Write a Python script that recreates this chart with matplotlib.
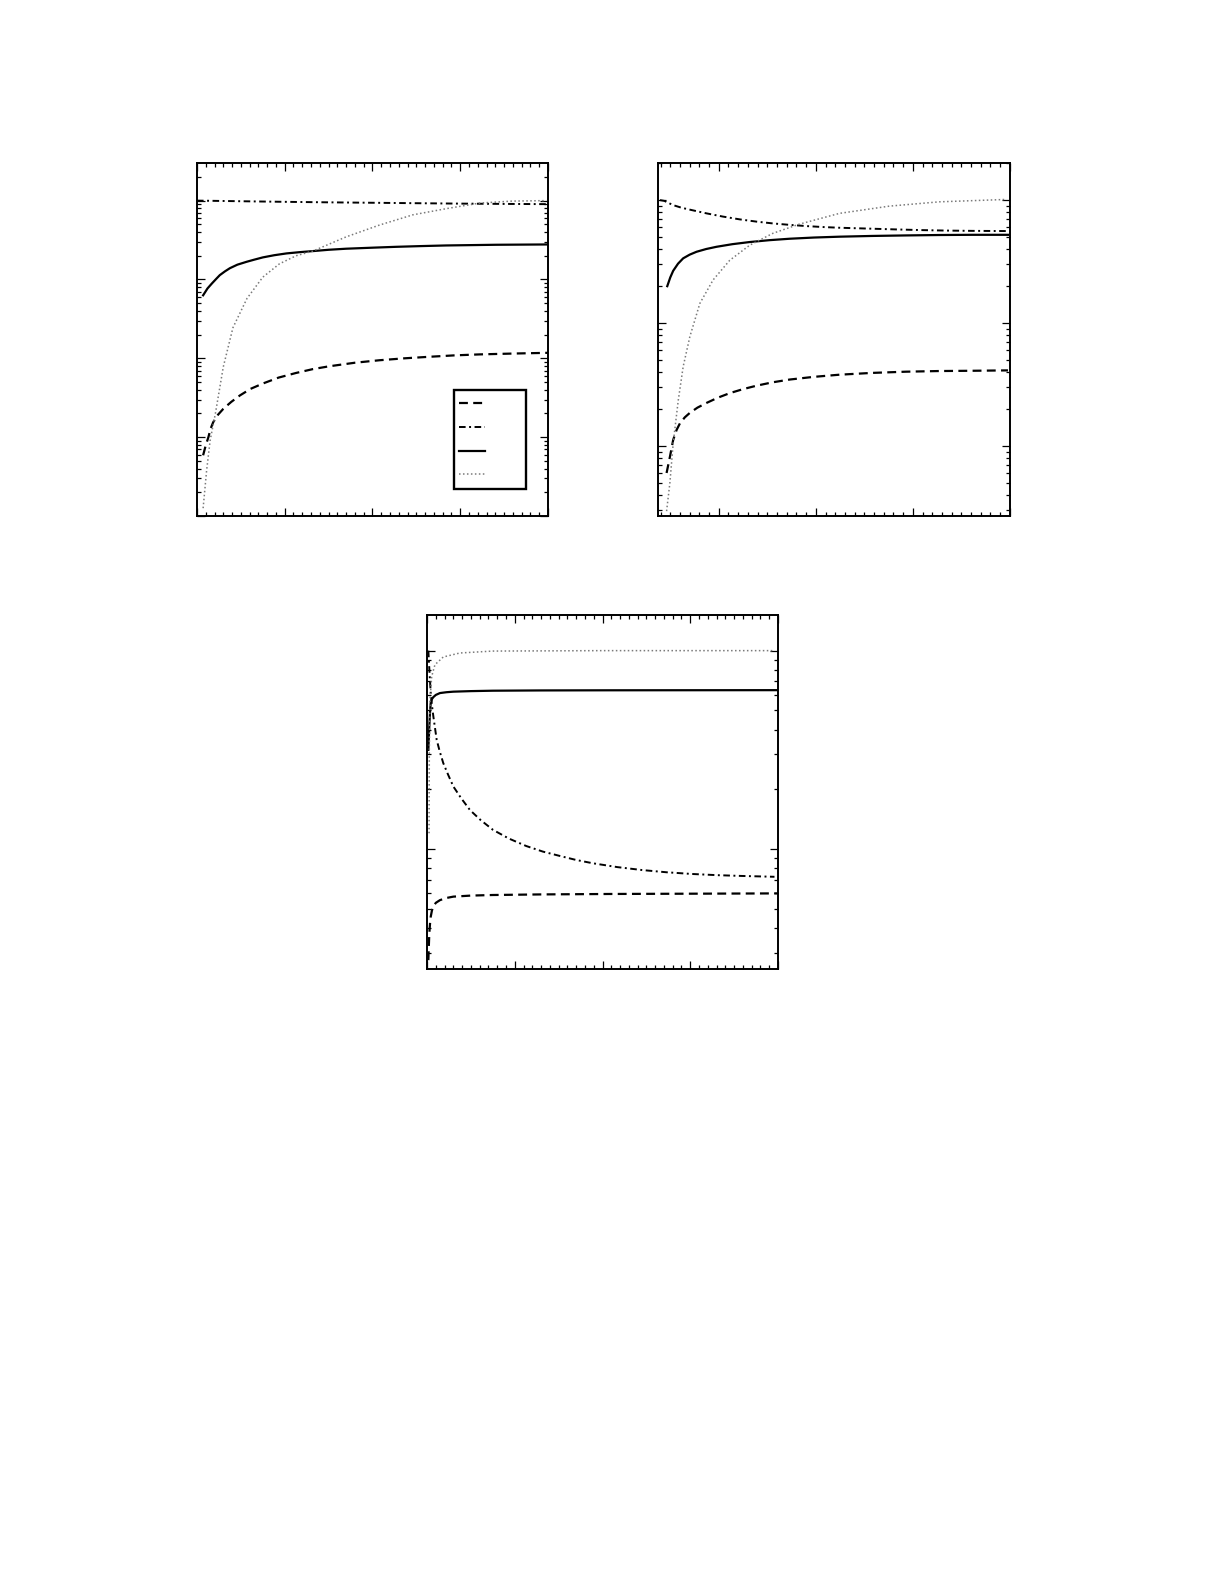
"""
Three log-scale panels of four quantities vs x (no labels in the original figure).
Saves out.png.
"""
import matplotlib
matplotlib.use("Agg")
import matplotlib.pyplot as plt
import numpy as np
from matplotlib.ticker import MultipleLocator, LogLocator, NullFormatter
from matplotlib.patches import Rectangle
from matplotlib.lines import Line2D

# ---- panel 1 data ----
p1_dash_x = [0.07, 0.10, 0.13, 0.155, 0.185, 0.24, 0.30, 0.39, 0.49, 0.61, 0.75, 0.93,
             1.13, 1.32, 1.51, 1.8, 2.08, 2.36, 2.65, 2.93, 3.22, 3.6, 4.0]
p1_dash_y = [5.9e-4, 7.9e-4, 1.0e-3, 1.28e-3, 1.55e-3, 1.93e-3, 2.29e-3, 2.8e-3, 3.39e-3,
             4.1e-3, 4.79e-3, 5.7e-3, 6.53e-3, 7.3e-3, 7.94e-3, 8.8e-3, 9.46e-3, 1.0e-2,
             1.047e-2, 1.09e-2, 1.122e-2, 1.15e-2, 1.175e-2]
p1_dashdot_x = [0.0, 0.5, 1.0, 1.5, 2.0, 2.5, 3.0, 3.5, 4.0]
p1_dashdot_y = [1.0, 0.982, 0.965, 0.951, 0.939, 0.927, 0.916, 0.908, 0.902]
p1_solid_x = [0.07, 0.12, 0.17, 0.22, 0.26, 0.32, 0.375, 0.46, 0.565, 0.65, 0.75, 0.88,
              1.02, 1.17, 1.32, 1.5, 1.70, 2.0, 2.27, 2.55, 2.84, 3.41, 4.0]
p1_solid_y = [0.063, 0.077, 0.089, 0.102, 0.1135, 0.127, 0.139, 0.154, 0.1675, 0.178,
              0.1905, 0.203, 0.214, 0.222, 0.229, 0.238, 0.2455, 0.253, 0.2595, 0.265,
              0.27, 0.2755, 0.278]
p1_dot_x = [0.07, 0.11, 0.15, 0.21, 0.30, 0.41, 0.57, 0.75, 0.94, 1.13, 1.32, 1.70,
            2.08, 2.46, 2.84, 3.22, 3.59, 3.98]
p1_dot_y = [1.26e-4, 3.8e-4, 9.1e-4, 2.0e-3, 7.8e-3, 2.45e-2, 5.75e-2, 0.107, 0.158,
            0.20, 0.229, 0.347, 0.49, 0.66, 0.79, 0.93, 0.986, 1.0]

# ---- panel 2 data ----
p2_dash_x = [0.462, 0.496, 0.53, 0.565, 0.60, 0.65, 0.702, 0.78, 0.874, 0.99, 1.113,
             1.25, 1.387, 1.55, 1.73, 1.98, 2.244, 2.58, 2.929, 3.27, 3.614, 3.98]
p2_dash_y = [6.03e-3, 8.13e-3, 1.12e-2, 1.35e-2, 1.53e-2, 1.71e-2, 1.86e-2, 2.05e-2,
             2.24e-2, 2.47e-2, 2.69e-2, 2.90e-2, 3.09e-2, 3.29e-2, 3.47e-2, 3.65e-2,
             3.80e-2, 3.93e-2, 4.02e-2, 4.07e-2, 4.09e-2, 4.12e-2]
p2_dashdot_x = [0.394, 0.44, 0.48, 0.53, 0.62, 0.72, 0.874, 1.04, 1.216, 1.39, 1.558,
                1.73, 1.90, 2.07, 2.24, 2.586, 2.84, 3.10, 3.35, 3.61, 3.98]
p2_dashdot_y = [1.0, 0.985, 0.95, 0.91, 0.865, 0.83, 0.78, 0.735, 0.697, 0.668, 0.646,
                0.629, 0.615, 0.604, 0.596, 0.585, 0.577, 0.570, 0.565, 0.562, 0.56]
p2_solid_x = [0.469, 0.50, 0.53, 0.58, 0.633, 0.70, 0.771, 0.87, 0.976, 1.14, 1.319,
              1.52, 1.73, 1.98, 2.244, 2.58, 2.929, 3.27, 3.614, 3.98]
p2_solid_y = [0.1995, 0.235, 0.266, 0.304, 0.336, 0.36, 0.38, 0.40, 0.417, 0.438, 0.456,
              0.472, 0.485, 0.496, 0.504, 0.511, 0.516, 0.52, 0.522, 0.522]
p2_dot_x = [0.462, 0.496, 0.53, 0.582, 0.633, 0.702, 0.805, 0.941, 1.113, 1.319, 1.558,
            1.832, 2.244, 2.757, 3.271, 3.957]
p2_dot_y = [2.95e-3, 5.0e-3, 1.05e-2, 2.34e-2, 4.42e-2, 7.76e-2, 0.1445, 0.224, 0.324,
            0.43, 0.537, 0.638, 0.78, 0.893, 0.968, 1.012]

# ---- panel 3 data ----
p3_dash_x = [0.015, 0.02, 0.026, 0.034, 0.042, 0.056, 0.072, 0.1, 0.147, 0.22, 0.30,
             0.5, 0.75, 1.3, 2.07, 3.99]
p3_dash_y = [0.0275, 0.032, 0.0375, 0.042, 0.0455, 0.049, 0.0513, 0.0535, 0.0552,
             0.0566, 0.0575, 0.0582, 0.0586, 0.059, 0.0593, 0.0597]
p3_dashdot_x = [0.015, 0.028, 0.042, 0.056, 0.072, 0.09, 0.11, 0.145, 0.185, 0.24, 0.30,
                0.39, 0.49, 0.61, 0.75, 0.93, 1.13, 1.32, 1.51, 1.7, 1.89, 2.17, 2.45,
                2.73, 3.02, 3.3, 3.59, 3.96]
p3_dashdot_y = [1.0, 0.78, 0.611, 0.53, 0.466, 0.41, 0.355, 0.31, 0.271, 0.237, 0.2065,
                0.18, 0.157, 0.14, 0.125, 0.113, 0.1035, 0.097, 0.0923, 0.088, 0.0847,
                0.081, 0.0783, 0.0763, 0.0748, 0.0738, 0.0731, 0.0724]
p3_solid_x = [0.015, 0.02, 0.026, 0.034, 0.042, 0.056, 0.072, 0.1, 0.147, 0.22, 0.30,
              0.5, 0.75, 1.3, 2.07, 3.99]
p3_solid_y = [0.316, 0.36, 0.415, 0.49, 0.545, 0.57, 0.583, 0.598, 0.611, 0.617, 0.621,
              0.625, 0.628, 0.63, 0.631, 0.632]
p3_dot_x = [0.023, 0.026, 0.034, 0.053, 0.09, 0.185, 0.374, 0.75, 2.0, 3.96]
p3_dot_y = [0.12, 0.316, 0.566, 0.741, 0.849, 0.929, 0.973, 0.995, 1.0, 1.0]

# line styles shared by all panels
DASH = dict(color="black", lw=1.6, linestyle=(0, (4.0, 2.4)))
DASHDOT = dict(color="black", lw=1.4, linestyle=(0, (3.4, 1.8, 1.0, 1.8)))
SOLID = dict(color="black", lw=1.6, linestyle="-")
DOT = dict(color="#7a7a7a", lw=1.1, linestyle=(0, (1, 1.6)))


def style_axes(ax, xlim, ylim):
    ax.set_yscale("log")
    ax.set_xlim(*xlim)
    ax.set_ylim(*ylim)
    ax.xaxis.set_major_locator(MultipleLocator(1))
    ax.xaxis.set_minor_locator(MultipleLocator(0.1))
    ax.yaxis.set_major_locator(LogLocator(base=10))
    ax.yaxis.set_minor_locator(LogLocator(base=10, subs=np.arange(2, 10), numticks=50))
    for axis in (ax.xaxis, ax.yaxis):
        axis.set_major_formatter(NullFormatter())
        axis.set_minor_formatter(NullFormatter())
    ax.tick_params(which="both", direction="in", top=True, right=True, width=0.9)
    ax.tick_params(which="major", length=5.5)
    ax.tick_params(which="minor", length=2.8)
    for s in ax.spines.values():
        s.set_linewidth(1.4)


fig = plt.figure(figsize=(12.25, 15.85), dpi=100)

ax1 = fig.add_axes([0.1608, 0.6744, 0.2865, 0.2227])
ax1.plot(p1_dash_x, p1_dash_y, **DASH)
ax1.plot(p1_dashdot_x, p1_dashdot_y, **DASHDOT)
ax1.plot(p1_solid_x, p1_solid_y, **SOLID)
ax1.plot(p1_dot_x, p1_dot_y, **DOT)
style_axes(ax1, (0, 4), (1e-4, 2.99))

# legend box with handles only (labels are blank in the original)
ax1.add_patch(Rectangle((0.732, 0.0765), 0.205, 0.2805, transform=ax1.transAxes,
                        fill=False, lw=1.7, edgecolor="black", zorder=5))
for yy, st in zip([0.320, 0.252, 0.184, 0.119], [DASH, DASHDOT, SOLID, DOT]):
    ax1.add_line(Line2D([0.746, 0.821], [yy, yy], transform=ax1.transAxes, zorder=6, **st))

ax2 = fig.add_axes([0.5371, 0.6744, 0.2873, 0.2227])
ax2.plot(p2_dash_x, p2_dash_y, **DASH)
ax2.plot(p2_dashdot_x, p2_dashdot_y, **DASHDOT)
ax2.plot(p2_solid_x, p2_solid_y, **SOLID)
ax2.plot(p2_dot_x, p2_dot_y, **DOT)
style_axes(ax2, (0.373, 4.0), (2.69e-3, 2.0))

ax3 = fig.add_axes([0.3486, 0.3886, 0.2865, 0.2233])
ax3.plot(p3_dash_x, p3_dash_y, **DASH)
ax3.plot(p3_dashdot_x, p3_dashdot_y, **DASHDOT)
ax3.plot(p3_solid_x, p3_solid_y, **SOLID)
ax3.plot(p3_dot_x, p3_dot_y, **DOT)
style_axes(ax3, (0, 4), (0.0248, 1.51))

fig.savefig("out.png", dpi=100)
plt.close(fig)
